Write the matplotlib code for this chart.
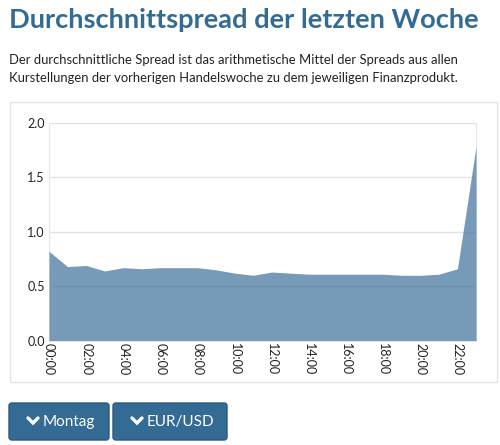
import matplotlib
matplotlib.use("Agg")
from matplotlib import pyplot as plt
from matplotlib.patches import FancyBboxPatch, Rectangle
from matplotlib.lines import Line2D

hours = list(range(24))
spread = [0.82, 0.68, 0.69, 0.64, 0.67, 0.66, 0.67, 0.67, 0.67, 0.65, 0.62, 0.60,
          0.63, 0.62, 0.61, 0.61, 0.61, 0.61, 0.61, 0.60, 0.60, 0.61, 0.66, 1.78]
tick_hours = list(range(0, 24, 2))
tick_labels = ["%02d:00" % h for h in tick_hours]
y_ticks = [0.0, 0.5, 1.0, 1.5, 2.0]

title = "Durchschnittspread der letzten Woche"
subtitle = ("Der durchschnittliche Spread ist das arithmetische Mittel der Spreads aus allen\n"
            "Kurstellungen der vorherigen Handelswoche zu dem jeweiligen Finanzprodukt.")
buttons = ["Montag", "EUR/USD"]

W, H = 500, 445
blue = "#336b94"
plt.rcParams["font.family"] = ["Lato", "DejaVu Sans"]

fig = plt.figure(figsize = (W / 100, H / 100), dpi = 100)

def px(x, y):
    return x / W, 1 - y / H

fig.text(*px(9, 28), title, fontsize = 19.6, fontweight = "bold", color = blue, va = "baseline")
fig.text(*px(9, 54), subtitle, fontsize = 9.4, color = "#222222", va = "top", linespacing = 1.58)

# chart panel border
fig.patches.append(Rectangle(px(10, 382), 487 / W, 280 / H, transform = fig.transFigure,
                             facecolor = "white", edgecolor = "#e4e4e4", linewidth = 1, zorder = -5))

ax = fig.add_axes([49 / W, (H - 340.7) / H, 427 / W, 218 / H])
ax.patch.set_alpha(0)
ax.fill_between(hours, spread, 0, color = "#4f7ea5", alpha = 0.78, linewidth = 0, zorder = 3)
ax.set_xlim(0, 23)
ax.set_ylim(0, 2.0)
ax.set_yticks(y_ticks)
ax.set_yticklabels(["%.1f" % v for v in y_ticks])
ax.set_xticks(tick_hours)
ax.set_xticklabels(tick_labels, rotation = 270)
ax.grid(axis = "y", color = "#e2e2e2", linewidth = 1, zorder = 0)
ax.set_axisbelow(True)
for side in ["top", "bottom"]:
    ax.spines[side].set_visible(False)
for side in ["left", "right"]:
    ax.spines[side].set_color("#e6e6e6")
ax.tick_params(length = 0, labelsize = 9, colors = "#222222", pad = 3)
ax.tick_params(axis = "x", pad = 2)

# buttons
bx = [9, 113]
bw = [100, 114]
for x0, w, label in zip(bx, bw, buttons):
    fig.patches.append(FancyBboxPatch(px(x0, 440), w / W, 37 / H, transform = fig.transFigure,
                                      boxstyle = "round,pad=0,rounding_size=0.006",
                                      facecolor = blue, edgecolor = "#2a5a80", linewidth = 1))
    cx = x0 + 24
    cy = 421
    xs = [cx - 5, cx, cx + 5]
    ys = [cy - 3, cy + 2, cy - 3]
    fig.lines.append(Line2D([x / W for x in xs], [1 - y / H for y in ys], transform = fig.transFigure,
                            color = "white", linewidth = 2.4, solid_capstyle = "round",
                            solid_joinstyle = "miter"))
    fig.text(*px(cx + 10, 422), label, fontsize = 11, color = "white", va = "center")

fig.savefig("out.png", dpi = 100)
